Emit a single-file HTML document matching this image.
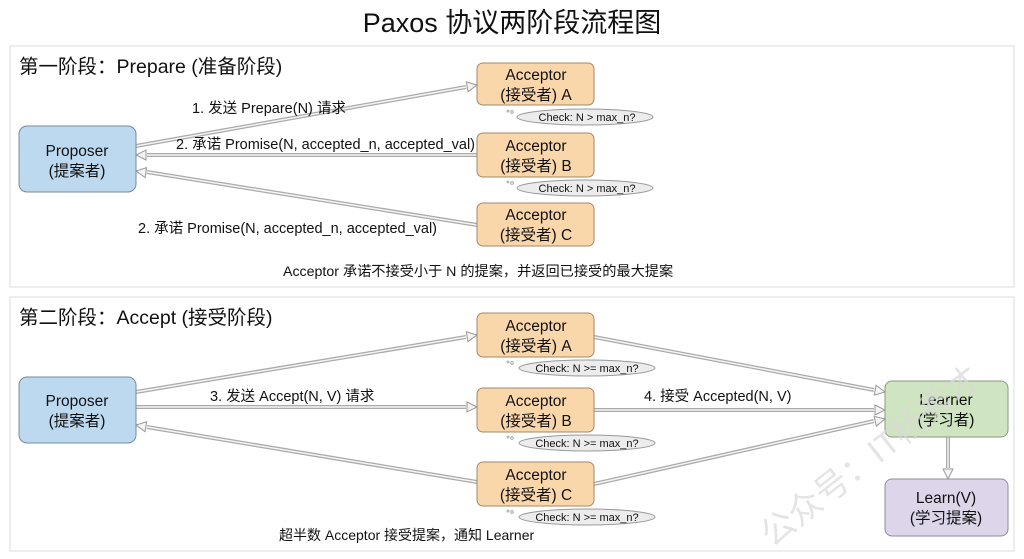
<!DOCTYPE html>
<html><head><meta charset="utf-8"><style>
body{margin:0;background:#fff}
svg{display:block}
text{font-family:"Liberation Sans","Noto Sans CJK SC",sans-serif;fill:#111}
</style></head><body>
<svg width="1024" height="559" viewBox="0 0 1024 559">
<defs>
<marker id="ah" viewBox="0 0 12 12" refX="11" refY="6" markerWidth="12" markerHeight="12" markerUnits="userSpaceOnUse" orient="auto">
<path d="M1,1 L11,6 L1,11 Z" fill="#f4f4f4" stroke="#999" stroke-width="1"/>
</marker>
</defs>
<rect width="1024" height="559" fill="#fff"/>
<text x="512" y="32" font-size="27" text-anchor="middle">Paxos 协议两阶段流程图</text>
<rect x="10" y="46" width="1004" height="241" fill="#fff" stroke="#ddd"/>
<rect x="10" y="297" width="1004" height="254" fill="#fff" stroke="#ddd"/>
<text x="19" y="73" font-size="19.5">第一阶段：Prepare (准备阶段)</text>
<text x="19" y="324" font-size="19.5">第二阶段：Accept (接受阶段)</text>

<g fill="none" stroke-linecap="butt">
<g stroke="#aaa" stroke-width="4">
<path d="M136,146 L466,87"/><path d="M477,155 L147,155"/><path d="M477,225 L147,172"/>
<path d="M136,392 L466,337"/><path d="M136,407 L466,407"/><path d="M477,482 L147,427"/>
<path d="M594,337 L874,390"/><path d="M594,410 L874,410"/><path d="M594,484 L874,421"/>
<path d="M948,436 L948,468"/>
</g>
<g stroke="#f4f4f4" stroke-width="1.5">
<path d="M136,146 L466,87"/><path d="M477,155 L147,155"/><path d="M477,225 L147,172"/>
<path d="M136,392 L466,337"/><path d="M136,407 L466,407"/><path d="M477,482 L147,427"/>
<path d="M594,337 L874,390"/><path d="M594,410 L874,410"/><path d="M594,484 L874,421"/>
<path d="M948,436 L948,468"/>
</g>
<g stroke="none">
<path d="M136,146 L477,85" marker-end="url(#ah)"/><path d="M477,155 L136,155" marker-end="url(#ah)"/><path d="M477,225 L136,171" marker-end="url(#ah)"/>
<path d="M136,392 L477,335" marker-end="url(#ah)"/><path d="M136,407 L477,407" marker-end="url(#ah)"/><path d="M477,482 L136,425" marker-end="url(#ah)"/>
<path d="M594,337 L885,392" marker-end="url(#ah)"/><path d="M594,410 L885,410" marker-end="url(#ah)"/><path d="M594,484 L885,419" marker-end="url(#ah)"/>
<path d="M948,436 L948,479" marker-end="url(#ah)"/>
</g>
</g>

<g stroke="#7a8a99" stroke-width="1">
<rect x="19" y="126" width="117" height="66" rx="8" fill="#bcd9f0"/>
<rect x="19" y="377" width="117" height="66" rx="8" fill="#bcd9f0"/>
</g>
<g stroke="#a08a6a" stroke-width="1" fill="#fad7ab">
<rect x="477" y="63" width="117" height="42" rx="6"/>
<rect x="477" y="133" width="117" height="44" rx="6"/>
<rect x="477" y="203" width="117" height="43" rx="6"/>
<rect x="477" y="313" width="117" height="44" rx="6"/>
<rect x="477" y="388" width="117" height="44" rx="6"/>
<rect x="477" y="462" width="117" height="44" rx="6"/>
</g>
<rect x="885" y="381" width="123" height="56" rx="7" fill="#cfe4c0" stroke="#8a9a80"/>
<rect x="885" y="479" width="123" height="57" rx="7" fill="#ddd6ea" stroke="#8f8aa0"/>

<g font-size="15.5" text-anchor="middle">
<text x="77" y="156">Proposer</text><text x="77" y="176">(提案者)</text>
<text x="77" y="406">Proposer</text><text x="77" y="426">(提案者)</text>
<text x="536" y="80">Acceptor</text><text x="536" y="100">(接受者) A</text>
<text x="536" y="151">Acceptor</text><text x="536" y="171">(接受者) B</text>
<text x="536" y="220">Acceptor</text><text x="536" y="240">(接受者) C</text>
<text x="536" y="331">Acceptor</text><text x="536" y="351">(接受者) A</text>
<text x="536" y="406">Acceptor</text><text x="536" y="426">(接受者) B</text>
<text x="536" y="480">Acceptor</text><text x="536" y="500">(接受者) C</text>
<text x="946" y="405">Learner</text><text x="946" y="425">(学习者)</text>
<text x="946" y="503">Learn(V)</text><text x="946" y="523">(学习提案)</text>
</g>

<g fill="#ececec" stroke="#999" stroke-width="1">
<ellipse cx="585" cy="117" rx="68" ry="8"/>
<ellipse cx="585" cy="188" rx="68" ry="8"/>
<ellipse cx="587" cy="368" rx="68" ry="8"/>
<ellipse cx="587" cy="443" rx="68" ry="8"/>
<ellipse cx="587" cy="517" rx="68" ry="8"/>
</g>
<g fill="none" stroke="#999" stroke-width="0.8">
<circle cx="508" cy="111" r="1"/><circle cx="512" cy="112" r="1.3"/>
<circle cx="508" cy="182" r="1"/><circle cx="512" cy="183" r="1.3"/>
<circle cx="508" cy="362" r="1"/><circle cx="512" cy="363" r="1.3"/>
<circle cx="508" cy="437" r="1"/><circle cx="512" cy="438" r="1.3"/>
<circle cx="508" cy="511" r="1"/><circle cx="512" cy="512" r="1.3"/>
</g>
<g font-size="11" text-anchor="middle">
<text x="587" y="121">Check: N &gt; max_n?</text>
<text x="587" y="192">Check: N &gt; max_n?</text>
<text x="587" y="372">Check: N &gt;= max_n?</text>
<text x="587" y="447">Check: N &gt;= max_n?</text>
<text x="587" y="521">Check: N &gt;= max_n?</text>
</g>

<g font-size="14.5">
<text x="192" y="113">1. 发送 Prepare(N) 请求</text>
<text x="176" y="149">2. 承诺 Promise(N, accepted_n, accepted_val)</text>
<text x="138" y="233">2. 承诺 Promise(N, accepted_n, accepted_val)</text>
<text x="283" y="276" font-size="14.2">Acceptor 承诺不接受小于 N 的提案，并返回已接受的最大提案</text>
<text x="210" y="401">3. 发送 Accept(N, V) 请求</text>
<text x="644" y="401">4. 接受 Accepted(N, V)</text>
<text x="279" y="540" font-size="14">超半数 Acceptor 接受提案，通知 Learner</text>
</g>
<text x="772" y="548" font-size="34" style="fill:#d8d8d8;fill-opacity:0.7" transform="rotate(-38 772 548)">公众号：IT杨秀才</text>
</svg>
</body></html>
